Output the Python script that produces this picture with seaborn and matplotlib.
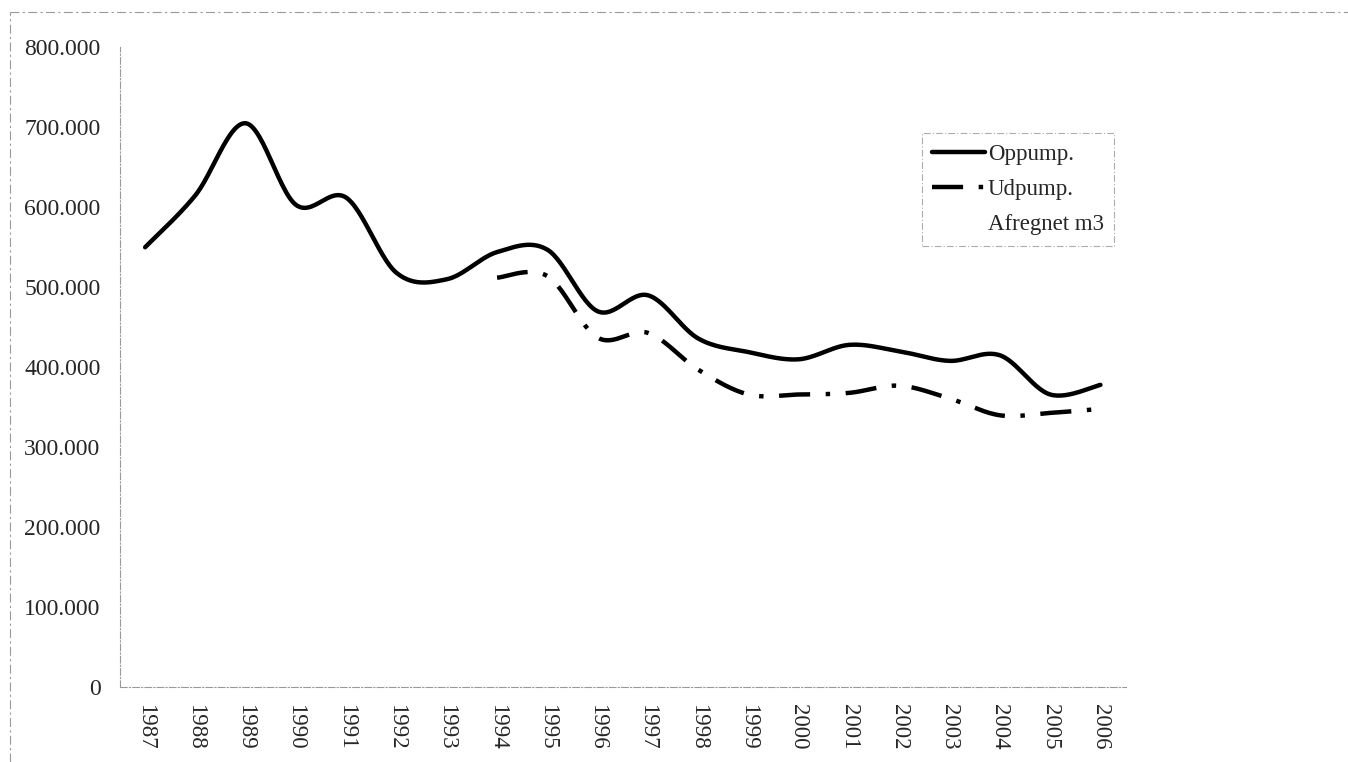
import numpy as np
import pandas as pd
import matplotlib
matplotlib.use("Agg")
from matplotlib import pyplot as plt
from matplotlib.lines import Line2D
from matplotlib.ticker import FuncFormatter
import seaborn as sns

years = list(range(1987, 2007))
# Oppumpet vand (m3)
oppump = [550000, 615000, 705000, 603000, 612000, 518000, 510000, 544000, 547000, 470000,
          490000, 436000, 419000, 410000, 428000, 420000, 408000, 415000, 366000, 378000]
# Udpumpet vand (m3), first registered in 1994
udpump = [None] * 7 + [512000, 514000, 437000, 443000, 397000, 366000, 366000, 368000,
                       377000, 361000, 340000, 343000, 348000]
legend_labels = ["Oppump.", "Udpump.", "Afregnet m3"]
y_ticks = list(range(0, 800001, 100000))


def smooth(xs, ys, steps=30):
    # excel style "smoothed line": cubic bezier through the points, tension 1/6
    pts = [(x, y) for x, y in zip(xs, ys) if y is not None]
    px = np.array([p[0] for p in pts], dtype=float)
    py = np.array([p[1] for p in pts], dtype=float)
    n = len(px)
    out_x, out_y = [], []
    t = np.linspace(0, 1, steps)
    for i in range(n - 1):
        i0, i3 = max(i - 1, 0), min(i + 2, n - 1)
        c1x = px[i] + (px[i + 1] - px[i0]) / 6
        c1y = py[i] + (py[i + 1] - py[i0]) / 6
        c2x = px[i + 1] - (px[i3] - px[i]) / 6
        c2y = py[i + 1] - (py[i3] - py[i]) / 6
        b0, b1, b2, b3 = (1 - t) ** 3, 3 * (1 - t) ** 2 * t, 3 * (1 - t) * t ** 2, t ** 3
        out_x.extend(b0 * px[i] + b1 * c1x + b2 * c2x + b3 * px[i + 1])
        out_y.extend(b0 * py[i] + b1 * c1y + b2 * c2y + b3 * py[i + 1])
    return pd.DataFrame({"x": out_x, "y": out_y})


sns.set_style("white")
plt.rcParams["font.family"] = ["Liberation Serif", "DejaVu Serif"]

fig = plt.figure(figsize=(13.48, 7.62), dpi=100)
ax = fig.add_axes([0.089, 0.098, 0.746, 0.840])

idx = list(range(len(years)))
op = smooth(idx, oppump)
ud = smooth(idx, udpump)

sns.lineplot(data=op, x="x", y="y", ax=ax, color="black", linewidth=3.2,
             sort=False, estimator=None)
sns.lineplot(data=ud, x="x", y="y", ax=ax, color="black", linewidth=3.2,
             sort=False, estimator=None)
ax.lines[1].set_dashes((7, 3.5, 1, 3.5))

ax.set_xlim(-0.5, len(years) - 0.5)
ax.set_ylim(0, 800000)
ax.set_yticks(y_ticks)
ax.yaxis.set_major_formatter(FuncFormatter(lambda v, p: f"{v:,.0f}".replace(",", ".")))
ax.set_xticks(idx)
ax.set_xticklabels([str(y) for y in years], rotation=270)
ax.set_xticks([i + 0.5 for i in idx[:-1]], minor=True)
ax.tick_params(axis="y", labelsize=17, direction="out", length=4, color="#999999", pad=10)
ax.tick_params(axis="x", which="major", labelsize=16.5, length=0, pad=12)
ax.tick_params(axis="x", which="minor", direction="out", length=4, color="#999999")
ax.set_xlabel("")
ax.set_ylabel("")

for side in ["top", "right"]:
    ax.spines[side].set_visible(False)
for side in ["left", "bottom"]:
    ax.spines[side].set_color("#999999")
    ax.spines[side].set_linewidth(0.8)
    ax.spines[side].set_linestyle((0, (6, 2, 1, 2)))

# legend: the third series has no visible line
handles = [
    Line2D([], [], color="black", linewidth=3.2),
    Line2D([], [], color="black", linewidth=3.2, dashes=(7, 3.5, 1, 3.5)),
    Line2D([], [], color="white", linewidth=3.2),
]
leg = fig.legend(handles, legend_labels, loc="upper left", bbox_to_anchor=(0.684, 0.825),
                 fontsize=16.5, frameon=True, fancybox=False, handlelength=2.3,
                 handletextpad=0.12, labelspacing=0.62, borderpad=0.45, borderaxespad=0)
leg.get_frame().set_edgecolor("#999999")
leg.get_frame().set_linewidth(0.8)
leg.get_frame().set_linestyle((0, (6, 2, 1, 2)))

# chart area frame (top and left edge visible)
fig.add_artist(Line2D([0.0074, 1.0], [0.984, 0.984], transform=fig.transFigure,
                      color="#999999", linewidth=0.8, linestyle=(0, (8, 3, 2, 3))))
fig.add_artist(Line2D([0.0074, 0.0074], [0.0, 0.984], transform=fig.transFigure,
                      color="#999999", linewidth=0.8, linestyle=(0, (8, 3, 2, 3))))

fig.savefig("out.png", dpi=100)
